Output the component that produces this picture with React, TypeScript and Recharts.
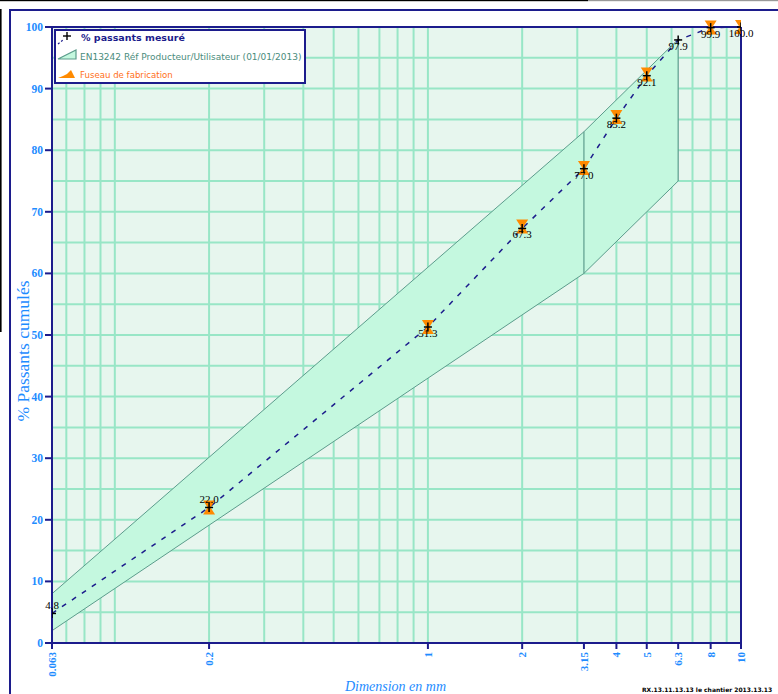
import React from 'react';
import {
  ComposedChart,
  Line,
  Area,
  XAxis,
  YAxis,
  CartesianGrid,
  ReferenceLine,
  LabelList,
} from 'recharts';

// ---------- data ----------
const sizes = [0.063, 0.2, 1, 2, 3.15, 4, 5, 6.3, 8, 10];
const passing = [4.8, 22.0, 51.3, 67.3, 77.0, 85.2, 92.1, 97.9, 99.9, 100.0];

const fuseauValues = [4.8, 22.0, 51.3, 67.6, 77.1, 85.4, 92.3, 95.5, 99.9, 100.0];
const fuseauMarker = [0, 1, 1, 1, 1, 1, 1, 0, 1, 1];

const bandSizes = [0.063, 3.15, 6.3];
const bandLow = [2, 60, 75];
const bandHigh = [8, 83, 98];

const xTicks = [0.063, 0.2, 1, 2, 3.15, 4, 5, 6.3, 8, 10];
const yTicks = [0, 10, 20, 30, 40, 50, 60, 70, 80, 90, 100];
const xGrid = [0.07, 0.08, 0.09, 0.1, 0.2, 0.3, 0.4, 0.5, 0.6, 0.7, 0.8, 0.9, 1, 2, 3, 4, 5, 6, 7, 8, 9];
const yGrid = [5, 10, 15, 20, 25, 30, 35, 40, 45, 50, 55, 60, 65, 70, 75, 80, 85, 90, 95];

const legendLabels = [
  '% passants mesuré',
  'EN13242 Réf Producteur/Utilisateur (01/01/2013)',
  'Fuseau de fabrication',
];
const footerText = 'RX.13.11.13.13 le chantier 2013.13.13';

// ---------- styles ----------
const W = 778;
const H = 694;
const NAVY = '#1c1c8c';
const TICK_BLUE = '#1e8cff';
const GRID = '#98e6c6';
const PLOT_BG = '#e7f6ee';
const BAND_FILL = '#c4f8df';
const BAND_STROKE = '#5c9c8c';
const ORANGE = '#ff8a00';
const SERIF = '"Liberation Serif", "Times New Roman", serif';
const SANS = '"DejaVu Sans", Verdana, sans-serif';

const measuredData = sizes.map((x, i) => ({ x, y: passing[i] }));
const fuseauData = sizes.map((x, i) => ({ x, y: fuseauValues[i], m: fuseauMarker[i] }));
const bandData = bandSizes.map((x, i) => ({ x, band: [bandLow[i], bandHigh[i]] }));

const XTick = (props: any) => {
  const { x, y, payload } = props;
  return (
    <g transform={`translate(${x},${y})`}>
      <text
        transform="rotate(-90)"
        x={-1}
        y={0}
        dy="0.35em"
        textAnchor="end"
        fill={TICK_BLUE}
        fontSize={11}
        fontWeight="bold"
        fontFamily={SERIF}
      >
        {String(payload.value)}
      </text>
    </g>
  );
};

const YTick = (props: any) => {
  const { x, y, payload } = props;
  return (
    <text
      x={x}
      y={y}
      dy="0.35em"
      textAnchor="end"
      fill={TICK_BLUE}
      fontSize={11.5}
      fontWeight="bold"
      fontFamily={SERIF}
    >
      {String(payload.value)}
    </text>
  );
};

const PlusDot = (props: any) => {
  const { cx, cy } = props;
  if (cx == null || cy == null) return <g />;
  return (
    <g>
      <line x1={cx - 4} x2={cx + 4} y1={cy} y2={cy} stroke="#000" strokeWidth={1.5} />
      <line x1={cx} x2={cx} y1={cy - 4.5} y2={cy + 4.5} stroke="#000" strokeWidth={1.5} />
    </g>
  );
};

const HourglassDot = (props: any) => {
  const { cx, cy, payload } = props;
  if (cx == null || cy == null || !payload || !payload.m) return <g />;
  const d = `M${cx - 6},${cy - 7} L${cx + 6},${cy - 7} L${cx + 1.5},${cy} L${cx + 6},${cy + 7} L${cx - 6},${cy + 7} L${cx - 1.5},${cy} Z`;
  return <path d={d} fill={ORANGE} stroke="none" />;
};

const renderValueLabel = (props: any) => {
  const { x, y, value, index } = props;
  if (x == null || y == null) return null;
  const above = index < 2;
  return (
    <text
      x={x}
      y={above ? y - 4 : y + 10}
      textAnchor="middle"
      fill="#000"
      fontSize={11}
      fontFamily={SERIF}
    >
      {Number(value).toFixed(1)}
    </text>
  );
};

const XLabel = (props: any) => {
  const vb = props.viewBox || {};
  return (
    <text
      x={vb.x + vb.width / 2 - 1}
      y={vb.y + vb.height - 3}
      textAnchor="middle"
      fill={TICK_BLUE}
      fontSize={14}
      fontStyle="italic"
      fontFamily={SERIF}
    >
      Dimension en mm
    </text>
  );
};

const YLabel = (props: any) => {
  const vb = props.viewBox || {};
  const cx = vb.x + 23;
  const cy = vb.y + vb.height / 2 + 16;
  return (
    <text
      x={cx}
      y={cy}
      transform={`rotate(-90, ${cx}, ${cy})`}
      textAnchor="middle"
      dy="0.35em"
      fill={TICK_BLUE}
      fontSize={17.5}
      fontFamily={SERIF}
    >
      % Passants cumulés
    </text>
  );
};

const Overlay = () => (
  <svg
    width={W}
    height={H}
    style={{ position: 'absolute', left: 0, top: 0, pointerEvents: 'none' }}
  >
    {/* screenshot edges */}
    <rect x={0} y={0} width={588} height={1.2} fill="#000" />
    <rect x={588} y={0} width={190} height={1.2} fill="#999" />
    <rect x={0} y={9} width={1.6} height={323} fill="#000" />
    {/* outer frame */}
    <rect x={10} y={10} width={800} height={800} fill="none" stroke={NAVY} strokeWidth={2} />
    {/* legend */}
    <g transform="translate(55,30)">
      <rect x={0} y={0} width={250} height={53} fill="#fff" stroke={NAVY} strokeWidth={2} />
      {/* row 1 */}
      <line x1={3} y1={14} x2={8} y2={10} stroke={NAVY} strokeWidth={1.2} strokeDasharray="2 2" />
      <line x1={8} x2={16} y1={6} y2={6} stroke="#000" strokeWidth={1.4} />
      <line x1={12} x2={12} y1={2} y2={10} stroke="#000" strokeWidth={1.4} />
      <text x={26} y={11} fill={NAVY} fontSize={9.5} fontWeight="bold" fontFamily={SANS}>
        {legendLabels[0]}
      </text>
      {/* row 2 */}
      <path d="M3,29 L21,29 L21,20 Z" fill={BAND_FILL} stroke={BAND_STROKE} strokeWidth={1.2} />
      <text x={25} y={30} fill="#4a8c7c" fontSize={9} fontFamily={SANS}>
        {legendLabels[1]}
      </text>
      {/* row 3 */}
      <path d="M3,48 L8,46 L12,44 L16,40 L20,48 Z" fill={ORANGE} />
      <text x={25} y={48} fill="#ff6f1a" fontSize={8.6} fontFamily={SANS}>
        {legendLabels[2]}
      </text>
    </g>
    {/* footer */}
    <text x={642} y={692} fill="#000" fontSize={6} fontWeight="bold" fontFamily={SANS}>
      {footerText}
    </text>
  </svg>
);

export default function App() {
  return (
    <div
      style={{
        position: 'absolute',
        left: 0,
        top: 0,
        width: W,
        height: H,
        background: '#fff',
        overflow: 'hidden',
      }}
    >
      <ComposedChart
        width={W}
        height={H}
        margin={{ top: 27, right: 37, bottom: 0, left: 0 }}
      >
        <CartesianGrid
          stroke={GRID}
          strokeWidth={2}
          fill={PLOT_BG}
          fillOpacity={1}
          verticalValues={xGrid}
          horizontalValues={yGrid}
        />
        <XAxis
          type="number"
          dataKey="x"
          scale="log"
          domain={[0.063, 10]}
          ticks={xTicks}
          interval={0}
          allowDataOverflow
          height={51}
          axisLine={{ stroke: NAVY, strokeWidth: 2 }}
          tickLine={{ stroke: NAVY, strokeWidth: 2 }}
          tickSize={6}
          tickMargin={2}
          tick={<XTick />}
          label={<XLabel />}
        />
        <YAxis
          type="number"
          domain={[0, 100]}
          ticks={yTicks}
          interval={0}
          width={52}
          axisLine={{ stroke: NAVY, strokeWidth: 2 }}
          tickLine={{ stroke: NAVY, strokeWidth: 2 }}
          tickSize={7}
          tickMargin={2}
          tick={<YTick />}
          label={<YLabel />}
        />
        <Area
          data={bandData}
          dataKey="band"
          type="linear"
          stroke={BAND_STROKE}
          strokeWidth={1}
          fill={BAND_FILL}
          fillOpacity={1}
          dot={false}
          activeDot={false}
          isAnimationActive={false}
        />
        {bandData.slice(1).map((b) => (
          <ReferenceLine
            key={`v${b.x}`}
            segment={[
              { x: b.x, y: b.band[0] },
              { x: b.x, y: b.band[1] },
            ]}
            stroke={BAND_STROKE}
            strokeWidth={1.2}
          />
        ))}
        <ReferenceLine y={100} stroke={NAVY} strokeWidth={2} />
        <ReferenceLine x={10} stroke={NAVY} strokeWidth={2} />
        <Line
          data={fuseauData}
          dataKey="y"
          type="linear"
          stroke="none"
          dot={<HourglassDot />}
          activeDot={false}
          isAnimationActive={false}
        />
        <Line
          data={measuredData}
          dataKey="y"
          type="linear"
          stroke={NAVY}
          strokeWidth={1.5}
          strokeDasharray="5 7"
          dot={<PlusDot />}
          activeDot={false}
          isAnimationActive={false}
        >
          <LabelList dataKey="y" content={renderValueLabel} />
        </Line>
      </ComposedChart>
      <Overlay />
    </div>
  );
}
